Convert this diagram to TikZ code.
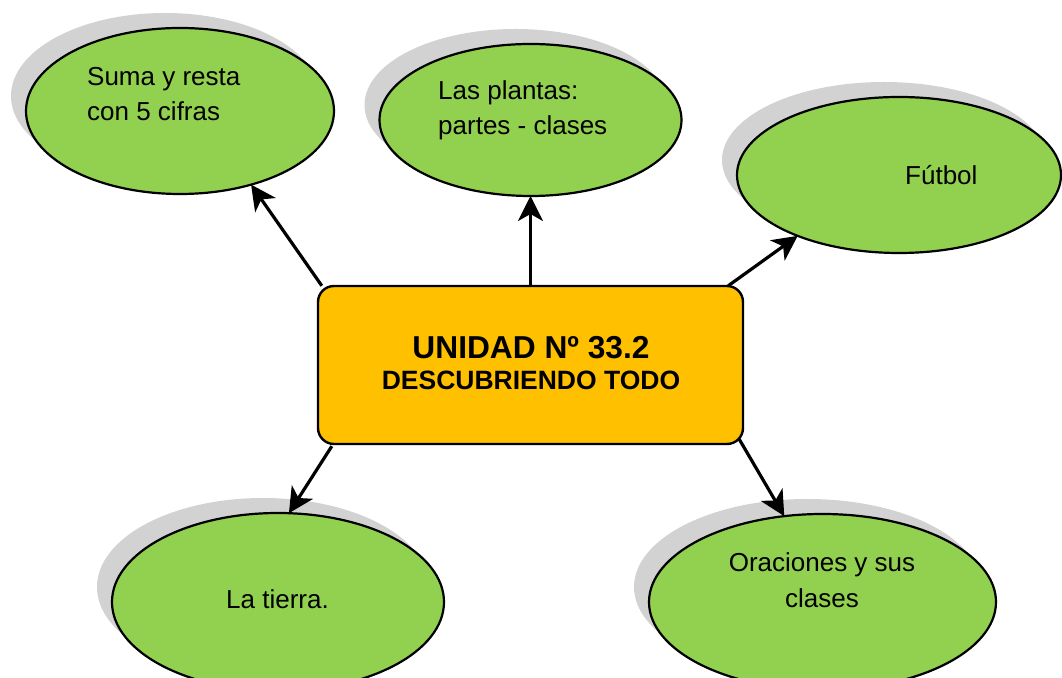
\documentclass[tikz,border=0pt]{standalone}
\usepackage{fontspec}
\setmainfont{Liberation Sans}
\usetikzlibrary{shapes.geometric,shadows,arrows.meta,calc}
\definecolor{leafgreen}{HTML}{92D050}
\definecolor{boxorange}{HTML}{FFC000}
\definecolor{shadowgray}{HTML}{D2D2D2}
\begin{document}
\begin{tikzpicture}[x=1pt,y=1pt,
  bubble/.style={ellipse, draw=black, line width=2.2pt, fill=leafgreen, inner sep=0pt, outer sep=0pt,
    drop shadow={shadow xshift=-15pt, shadow yshift=15pt, fill=shadowgray, opacity=1, draw=none}},
  centralbox/.style={rectangle, rounded corners=16pt, draw=black, line width=2.4pt, fill=boxorange,
    minimum width=425pt, minimum height=158pt, inner sep=0pt},
  bubbletext/.style={font=\fontsize{26}{35.5}\selectfont, inner sep=0pt},
  arr/.style={line width=3.2pt, -{Stealth[length=25pt, width=25pt, inset=7pt]}}]
\useasboundingbox (0,0) rectangle (1062,677);
\clip (0,0) rectangle (1062,677);
% bubbles
\node[bubble, minimum width=308pt, minimum height=166pt] (e1) at (180,566) {};
\node[bubble, minimum width=302pt, minimum height=152pt] (e2) at (530.5,557) {};
\node[bubble, minimum width=324pt, minimum height=156pt] (e3) at (899,502) {};
\node[bubble, minimum width=332pt, minimum height=178pt] (e4) at (278,75) {};
\node[bubble, minimum width=347pt, minimum height=176pt] (e5) at (822.5,75) {};
% central box
\node[centralbox] (box) at (530.5,312) {};
\node[font=\bfseries\fontsize{31.7}{36}\selectfont, inner sep=0pt, anchor=base] (t1) at (531,318) {UNIDAD Nº 33.2};
\node[font=\bfseries\fontsize{26.5}{30}\selectfont, inner sep=0pt, anchor=base] (t2) at (531,287) {DESCUBRIENDO TODO};
% texts
\node[bubbletext, align=left, anchor=base west] (x1) at (87,556) {Suma y resta\\con 5 cifras};
\node[bubbletext, align=left, anchor=base west] (x2) at (438,542) {Las plantas:\\partes - clases};
\node[bubbletext, anchor=base west] (x3) at (905,492) {Fútbol};
\node[bubbletext, anchor=base] (x4) at (277.5,68) {La tierra.};
\node[bubbletext, align=center, anchor=base] (x5) at (822,70) {Oraciones y sus\\clases};
% arrows
\draw[arr] ($(box.north west)+(5,-1)$) -- (e1.-46.4);
\draw[arr] (box.north) -- (e2.south);
\draw[arr] ($(box.north east)+(-16,-1)$) -- (e3.-149.6);
\draw[arr] ($(box.south west)+(15,-1)$) -- (e4.83);
\draw[arr] ($(box.south east)+(-5,6)$) -- (e5.114.8);
\end{tikzpicture}
\end{document}
